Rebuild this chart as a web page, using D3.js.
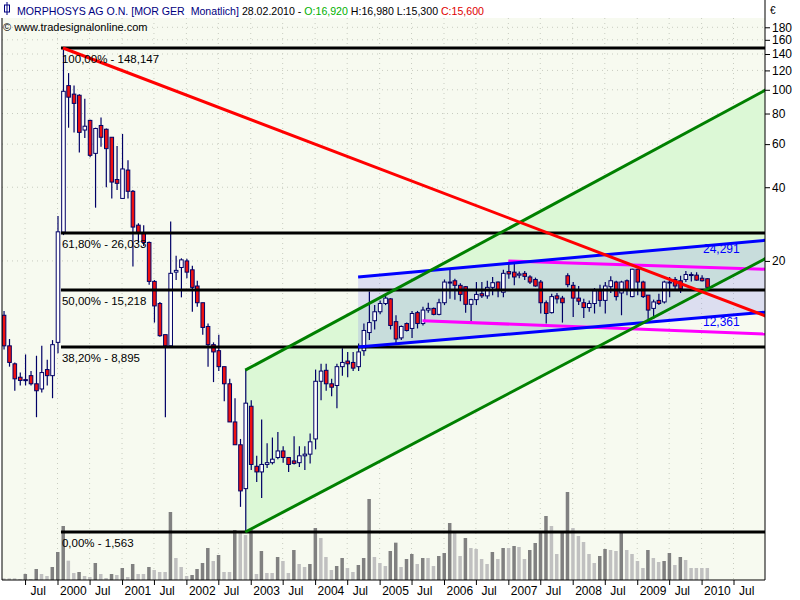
<!DOCTYPE html>
<html><head><meta charset="utf-8">
<script src="https://cdn.jsdelivr.net/npm/d3@7"></script>
<style>body{margin:0;background:#fff}svg{display:block;font-family:"Liberation Sans",Arial,sans-serif}</style>
</head><body><svg id="c" width="800" height="600"></svg>
<script>
const openP=[12.0,9.0,7.6,6.7,6.55,6.8,6.3,6.0,7.2,6.8, 9.3,26.2,104,96,95,68.5,75,55,71.5,69, 64,43,36,47,38.5,28,26,23.8,16.5,13.4, 10,9.0,18.0,18.8,20,18.4,15.8,13.5,10.8,9.1, 8.6,7.4,6.3,4.4,3.55,2.35,5.1,2.9,2.75,2.95, 3.0,3.15,3.35,3.15,3.05,3.0,3.2,3.25,3.75,6.45, 7.15,6.3,6.2,7.4,7.8,7.7,7.4,8.6,10.2,11.4, 12.4,13.4,14.0,11.3,9.7,11.1,10.6,12.3,11.1,12.6, 12.8,12.1,13.5,16.4,16.6,15.9,15.7,13.3,13.9,14.7, 14.4,15.6,16.4,14.9,18.1,18.0,17.5,17.8,17.2,16.8, 16.4,13.5,12.3,14.4,14.1,17.4,15.9,14.1,13.5,12.9, 13.4,15.1,13.8,15.7,16.4,14.8,16.6,14.3,18.5,16.4, 14.5,12.8,13.8,13.6,16.3,16.8,16.6,16.8,17.6,17.5,17.0,16.92];
const highP=[12.5,9.6,7.7,7.0,8.3,7.1,8.2,9.0,7.9,9.5, 30.5,148.147,117,104,96,92,75.5,70,77,69.5, 64,59,66,51.5,39,28.5,28,24,16.7,13.6, 10,29,21,20.5,20.4,19.1,16.6,13.5,11.1,9.3, 10,7.4,6.6,5.5,3.75,7.2,5.4,3.2,4.5,3.6, 3.8,4.0,3.5,3.15,3.85,3.5,3.5,3.95,7.2,7.6, 7.6,6.6,7.6,8.8,8.5,8.5,9.2,11.1,15.0,13.2, 13.8,14.5,14.1,12,10.9,11.2,12.5,12.5,13.0,13.5, 12.9,14.0,16.8,18.4,16.9,16.2,15.8,14.0,16.4,16.4, 16.6,17.2,16.5,18.4,19.5,19.7,18.1,18.2,17.5,17.1, 16.7,13.8,14.7,14.8,14.4,17.8,16.4,15.8,14.0,13.8, 15.5,16.0,16.4,17.3,16.6,16.6,16.8,18.6,18.6,16.6, 14.5,13.9,14.7,16.6,17.2,17.2,17.4,18.2,18.0,18.0,17.5,16.98];
const lowP=[8.7,7.4,5.9,6.2,6.2,6.2,4.6,5.8,6.2,5.5, 8.4,25.5,70,67,55.5,63.5,53,33,58.5,40, 36,39,36,36,19,23.8,23,16,11.2,9.8, 4.6,9.0,16.7,14.2,17,12.4,13,10.0,7.4,6.4, 7.1,5.35,4.4,3.55,1.98,1.563,2.8,2.5,2.15,2.85, 2.95,3.1,3.0,2.75,2.95,2.88,2.8,2.98,3.4,5.4, 5.9,5.6,5.0,6.8,6.7,7.1,7.1,8.2,9.5,10.5, 12.1,13.2,10.5,9.1,9.5,10.3,9.7,10.6,10.9,12.3, 12.0,12.0,13.2,14.0,13.9,13.7,12.3,11.3,13.2,14.1, 14.0,14.5,14.2,14.2,16.9,15.9,17.0,16.7,16.1,15.7, 12.2,11.1,12.2,13.4,11.2,15.6,11.8,13.2,11.7,12.4, 12.2,13.0,12.2,14.8,13.8,12.0,14.5,14.2,14.5,14.1, 11.5,11.6,13.2,13.4,14.2,15.1,14.8,16.4,16.5,16.6,16.5,15.3];
const closeP=[9.0,7.7,6.6,6.5,6.5,6.3,5.9,7.0,6.8,9.1, 26.3,98.6,93.3,88,67,71,54,69.5,64,57.5, 42,41.5,47.5,38.5,27.5,26,23.8,16.5,13.1,9.9, 9.0,17.8,18.3,20.2,18.0,15.6,13.5,10.7,9.1,8.5, 7.4,6.3,4.4,3.55,2.3,5.25,2.95,2.75,2.95,3.0, 3.1,3.35,3.15,2.95,2.98,3.2,3.25,3.65,6.45,7.1, 6.3,6.1,7.4,7.7,7.6,7.3,8.5,10.4,11.2,12.4, 13.4,14.1,10.9,9.6,10.8,10.4,12.2,11.1,12.6,12.8, 12.1,13.5,16.4,16.3,15.9,14.6,13.3,13.9,14.6,14.4, 15.6,16.3,15.2,17.8,17.7,17.2,17.7,17.3,16.4,15.8, 13.5,12.2,14.3,14.0,13.5,16.0,14.1,13.7,12.9,13.4, 15.1,13.8,15.8,16.6,14.3,16.4,15.2,18.5,16.4,14.3, 12.6,13.6,13.4,16.4,16.4,15.8,15.4,17.6,17.6,16.7,16.6,15.6];
const volume=[5,5,5,3,18,3,33,18,12,39,84,162, 58,21,24,12,9,51,18,6,18,15, 36,9,48,18,18,39,30,24,24,204, 66,39,12,15,33,51,96,57,75,24, 24,150,144,135,150,18,87,21,21,69, 57,21,90,48,39,48,156,126,69,30, 42,66,36,24,45,66,243,69,51,42, 87,112,39,63,78,48,66,66,42,72, 81,171,141,72,126,96,93,63,48,84, 63,96,96,102,99,63,90,111,141,192, 162,78,141,264,156,132,114,78,51,72, 93,90,87,141,90,78,57,36,90,66, 54,57,81,45,69,60,36,36,36,36];
const yTicks=[20,40,60,80,100,120,140,160,180];
const fibLevels=[148.147,26.033,15.218,8.895,1.563];
const fibLabels=["100,00% - 148,147","61,80% - 26,033","50,00% - 15,218","38,20% - 8,895","0,00% - 1,563"];
const months=d3.timeMonth.range(new Date(1999,2,1),new Date(2010,2,1));
const endDate=new Date(2011,0,1);
const redLine=[new Date(2000,1,1),148.147,11.9];
const greenUpper=[new Date(2002,11,1),7.16,100];
const greenLower=[new Date(2002,11,1),1.563,20.5];
const blueUpper=[new Date(2004,8,1),17.2,24.291];
const blueLower=[new Date(2004,8,1),8.9,12.361];
const magUpper=[new Date(2007,0,1),20.0,18.5];
const magLower=[new Date(2005,8,1),11.4,10.05];

const svg=d3.select("#c");
const L=2,R=765,T=18,B=580;
svg.append("rect").attr("width",800).attr("height",600).attr("fill","#fff");
svg.append("rect").attr("x",L).attr("y",T).attr("width",R-L).attr("height",B-T).attr("fill","#f7faf0");
const x=d3.scaleTime().domain([new Date(2000,0,1),new Date(2010,6,1)]).range([57.5,733.5]);
const y=d3.scaleLog().domain([1.563,148.147]).range([532,48]);
const yv=d3.scaleLinear().domain([0,264]).range([B,B-88]);
svg.append("clipPath").attr("id","cp").append("rect").attr("x",L).attr("y",T).attr("width",R-L).attr("height",B-T);
const g=svg.append("g").attr("clip-path","url(#cp)");
const xTicks=d3.timeMonth.every(6).range(new Date(1999,6,1),new Date(2010,7,1));
g.selectAll(".vg").data(xTicks).join("line").attr("x1",d=>x(d)).attr("x2",d=>x(d)).attr("y1",T).attr("y2",B).attr("stroke","#c8ccc0").attr("stroke-dasharray","1,4");
g.selectAll(".hg").data(yTicks).join("line").attr("x1",L).attr("x2",R).attr("y1",d=>y(d)).attr("y2",d=>y(d)).attr("stroke","#c8ccc0").attr("stroke-dasharray","1,4");
function chPoly(a,b){const x0=x(a[0]),x1=x(endDate);return [[x0,y(a[1])],[x1,y(a[2])],[x1,y(b[2])],[x0,y(b[1])]];}
g.append("polygon").attr("points",chPoly(greenUpper,greenLower).join(" ")).attr("fill","#dcf8d6");
g.append("polygon").attr("points",chPoly(blueUpper,blueLower).join(" ")).attr("fill","rgba(143,142,240,0.26)");
g.selectAll(".vol").data(volume).join("rect").attr("x",(d,i)=>x(months[i])-1.5).attr("width",3.5)
 .attr("y",d=>yv(d)).attr("height",d=>B-yv(d)).attr("fill",(d,i)=>i>0&&d>volume[i-1]?"#808080":"#c0c0c0");
const idx=d3.range(months.length);
g.selectAll(".wick").data(idx).join("line").attr("x1",i=>x(months[i])+0.5).attr("x2",i=>x(months[i])+0.5)
 .attr("y1",i=>y(highP[i])).attr("y2",i=>y(lowP[i])).attr("stroke","#000066").attr("stroke-width",1.2);
g.selectAll(".body").data(idx).join("rect").attr("x",i=>x(months[i])-1.3).attr("width",3.6)
 .attr("y",i=>y(Math.max(openP[i],closeP[i]))).attr("height",i=>Math.max(1,Math.abs(y(openP[i])-y(closeP[i]))))
 .attr("fill",i=>closeP[i]<openP[i]?"#ee1111":"#ffffff").attr("stroke","#000066").attr("stroke-width",1);
g.selectAll(".fib").data(fibLevels).join("line").attr("x1",x(months[11])-2).attr("x2",R).attr("y1",d=>y(d)).attr("y2",d=>y(d)).attr("stroke","#000").attr("stroke-width",3);
function tl(a,col){g.append("line").attr("x1",x(a[0])).attr("y1",y(a[1])).attr("x2",x(endDate)).attr("y2",y(a[2])).attr("stroke",col).attr("stroke-width",3);}
tl(magUpper,"#ff00ff");tl(magLower,"#ff00ff");
tl(blueUpper,"#0000ff");tl(blueLower,"#0000ff");
tl(greenUpper,"#008000");tl(greenLower,"#008000");
tl(redLine,"#ff0000");
g.selectAll(".fl").data(fibLevels).join("text").attr("x",x(months[11])-1).attr("y",(d)=>y(d)+15)
 .text((d,i)=>fibLabels[i]).attr("font-size",11.5).attr("fill","#000");
g.append("text").attr("x",703).attr("y",y(blueUpper[2])+13).text("24,291").attr("font-size",12).attr("fill","#0000ff");
g.append("text").attr("x",703).attr("y",y(blueLower[2])+14).text("12,361").attr("font-size",12).attr("fill","#0000ff");
svg.append("line").attr("x1",L).attr("x2",L).attr("y1",T).attr("y2",B).attr("stroke","#000");
svg.append("line").attr("x1",R).attr("x2",R).attr("y1",0).attr("y2",B).attr("stroke","#000");
svg.append("line").attr("x1",L).attr("x2",R).attr("y1",B).attr("y2",B).attr("stroke","#000");
const ya=svg.append("g").attr("transform",`translate(${R},0)`).call(d3.axisRight(y).tickValues(yTicks).tickSize(5).tickFormat(d3.format("d")));
ya.select(".domain").remove();
ya.selectAll("text").attr("font-size",12).attr("font-family","Liberation Sans").attr("fill","#000").attr("x",7);
svg.append("text").attr("x",770).attr("y",14).text("€").attr("font-size",10);
const xa=svg.append("g").attr("transform",`translate(0,${B})`).call(d3.axisBottom(x).tickValues(xTicks).tickSize(5).tickFormat(d=>d.getMonth()===0?d.getFullYear():"Jul"));
xa.select(".domain").remove();
xa.selectAll("text").attr("font-size",12).attr("font-family","Liberation Sans").attr("fill","#000").attr("text-anchor","start").attr("x",d=>d.getMonth()===0?2:5).attr("y",6);
const h=svg.append("text").attr("x",17).attr("y",15).attr("font-size",10.6);
[["MORPHOSYS AG O.N. [MOR GER  Monatlich] ","#000080"],["28.02.2010 - ","#000"],["O:16,920 ","#00b000"],["H:16,980 L:15,300 ","#000"],["C:15,600","#e00000"]]
 .forEach(([t,c])=>h.append("tspan").text(t).attr("fill",c).attr("xml:space","preserve"));
svg.append("rect").attr("x",4.5).attr("y",5).attr("width",5).attr("height",7).attr("fill","none").attr("stroke","#000080");
svg.append("line").attr("x1",7).attr("x2",7).attr("y1",2).attr("y2",15).attr("stroke","#000080");
svg.append("text").attr("x",3).attr("y",31).attr("font-size",11).text("© www.tradesignalonline.com");
</script></body></html>
